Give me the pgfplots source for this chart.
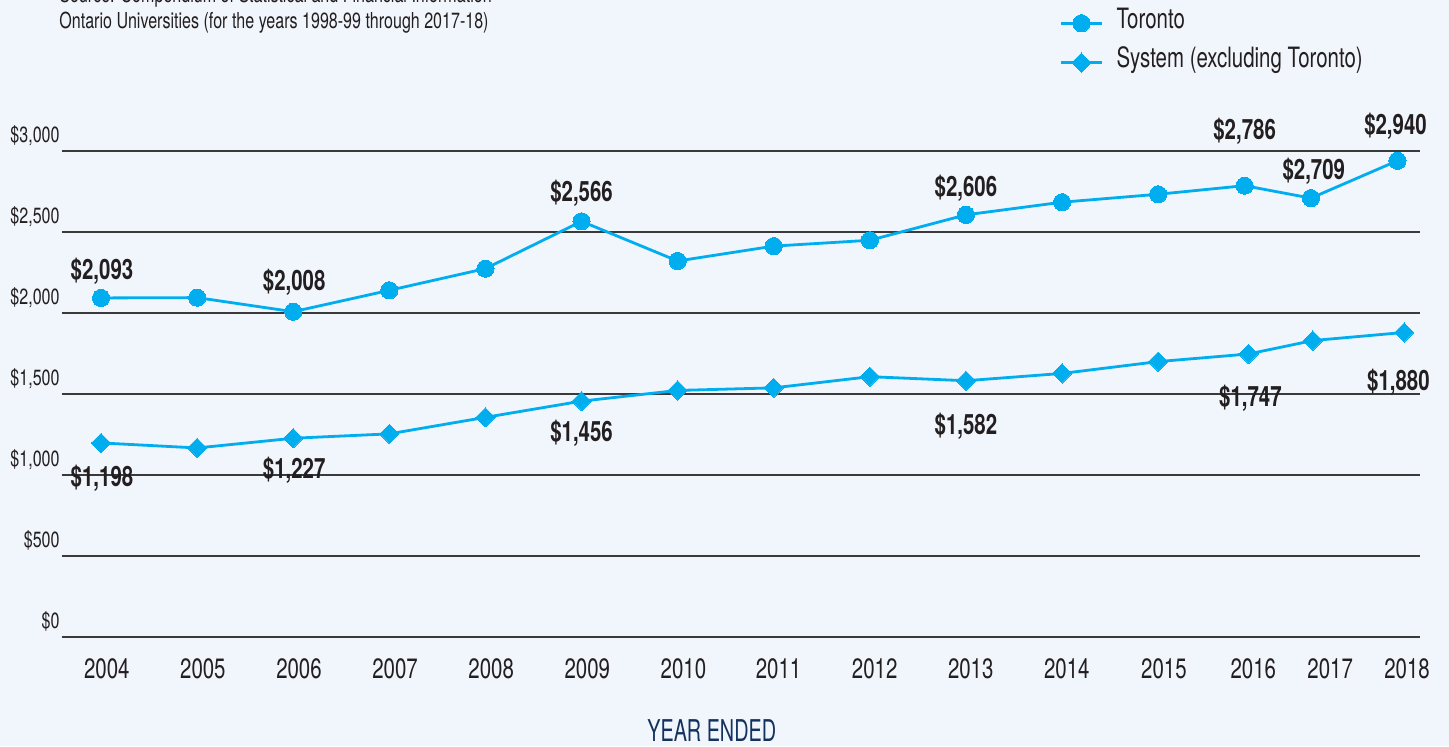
\documentclass[border=0pt]{standalone}
\usepackage{pgfplots}
\pgfplotsset{compat=1.18}
\usepackage{pgfplotstable}
\usepackage{fontspec}
\setmainfont{TeX Gyre Heros}[FakeStretch=0.73]
\newfontfamily\yefont{TeX Gyre Heros}[FakeStretch=0.66]
\definecolor{bg}{HTML}{F1F5FC}
\definecolor{cy}{HTML}{00AEEF}
\definecolor{tx}{HTML}{231F20}
\definecolor{navy}{HTML}{13325F}
\definecolor{gridc}{HTML}{3A3A3A}
\tikzset{lbl/.style={anchor=base, inner sep=0pt, font=\bfseries\fontsize{14}{16}\selectfont, text=tx}}

% x = position of each year (2004 = 0); y = tuition per student ($)
\pgfplotstableread{
x     y
0     2093
1     2095
2     2008
3     2140
4     2274
5     2566
6     2321
7     2413
8     2449
9     2606
10    2684
11    2733
11.90 2786
12.59 2709
13.49 2940
}\toronto

\pgfplotstableread{
x     y
0     1198
1     1167
2     1227
3     1254
4     1356
5     1456
6     1522
7     1538
8     1607
9     1582
10    1627
11    1700
11.94 1747
12.61 1830
13.56 1880
}\systemdata

\begin{document}
\begin{tikzpicture}
\path[fill=bg] (0,0) rectangle (724.5pt,373pt);
\path[use as bounding box] (0,0) rectangle (724.5pt,373pt);
\clip (0,0) rectangle (724.5pt,373pt);
\begin{axis}[
  at={(31pt,54.5pt)}, anchor=south west,
  scale only axis, width=679pt, height=243pt,
  xmin=-0.406, xmax=13.725, ymin=0, ymax=3000,
  clip=false,
  axis line style={draw=none},
  tick style={draw=none},
  ytick={0,500,1000,1500,2000,2500,3000},
  yticklabels={\$0,\$500,{\$1,000},{\$1,500},{\$2,000},{\$2,500},{\$3,000}},
  ymajorgrids,
  major grid style={gridc, line width=0.55pt},
  xtick={0.06,1.06,2.06,3.06,4.06,5.06,6.06,7.05,8.05,9.05,10.05,11.06,11.99,12.79,13.59},
  xticklabels={2004,2005,2006,2007,2008,2009,2010,2011,2012,2013,2014,2015,2016,2017,2018},
  xticklabel style={anchor=base, inner sep=0pt, yshift=-20.5pt, font=\fontsize{14}{16}\selectfont, text=tx},
  yticklabel style={anchor=base east, inner sep=0pt, xshift=-1pt, yshift=4.5pt, font=\fontsize{11}{13}\selectfont, text=tx},
  legend style={at={(axis description cs:0.7342,1.298)}, anchor=north west, draw=none, fill=none,
    inner sep=0pt, font=\fontsize{14}{16}\selectfont, text=tx, row sep=-0.4pt,
    nodes={inner sep=3.35pt, text height=0.75em, text depth=0.25em}},
  legend cell align=left,
  legend image code/.code={\path (0pt,-11pt) (23.8pt,4.3pt);
    \draw[mark repeat=2, mark phase=2, #1] plot coordinates {(0pt,0pt) (10.25pt,0pt) (20.5pt,0pt)};},
]
\addplot[cy, line width=1.4pt, mark=*, mark size=4.3pt,
  mark options={solid, fill=cy, draw=cy, line width=0pt}] table {\toronto};
\addlegendentry{Toronto}
\addplot[cy, line width=1.4pt, mark=diamond*, mark size=4.8pt,
  mark options={solid, fill=cy, draw=cy, line width=0pt, xscale=1.333}] table {\systemdata};
\addlegendentry{System (excluding Toronto)}

\node[lbl] at (axis cs:0.01,2207) {\$2,093};
\node[lbl] at (axis cs:2.01,2138) {\$2,008};
\node[lbl] at (axis cs:5.00,2687) {\$2,566};
\node[lbl] at (axis cs:9.00,2722) {\$2,606};
\node[lbl] at (axis cs:11.90,3072) {\$2,786};
\node[lbl] at (axis cs:12.62,2825) {\$2,709};
\node[lbl] at (axis cs:13.47,3099) {\$2,940};
\node[lbl] at (axis cs:0.01,932) {\$1,198};
\node[lbl] at (axis cs:2.01,980) {\$1,227};
\node[lbl] at (axis cs:5.00,1206) {\$1,456};
\node[lbl] at (axis cs:9.00,1247) {\$1,582};
\node[lbl] at (axis cs:11.96,1422) {\$1,747};
\node[lbl] at (axis cs:13.50,1520) {\$1,880};
\end{axis}
\node[anchor=base west, inner sep=0pt, font=\fontsize{11}{13}\selectfont, text=tx] at (29.5pt,371.65pt) {Source: Compendium of Statistical and Financial Information};
\node[anchor=base west, inner sep=0pt, font=\fontsize{11}{13}\selectfont, text=tx] at (29.5pt,358.85pt) {Ontario Universities (for the years 1998-99 through 2017-18)};
\node[anchor=base, inner sep=0pt, font=\yefont\fontsize{15}{17}\selectfont, text=navy] at (355.85pt,2.15pt) {YEAR ENDED};
\end{tikzpicture}
\end{document}
